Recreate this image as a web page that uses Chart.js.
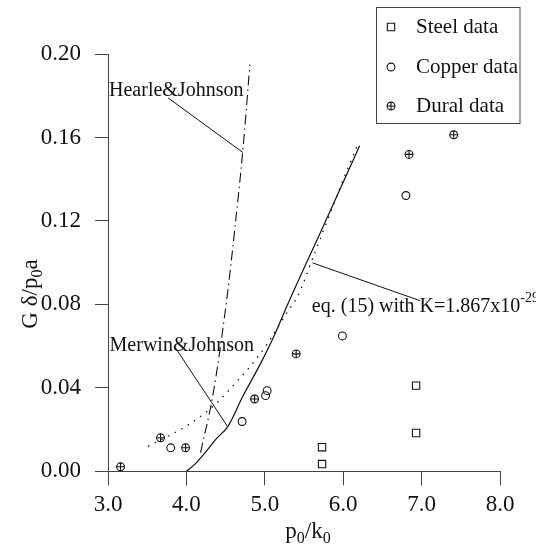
<!DOCTYPE html>
<html>
<head>
<meta charset="utf-8">
<script src="https://cdn.jsdelivr.net/npm/chart.js@4.4.1/dist/chart.umd.min.js"></script>
<style>
  html, body { margin: 0; padding: 0; background: #fff; }
  #wrap { width: 536px; height: 544px; }
</style>
</head>
<body>
<div id="wrap"><canvas id="chart"></canvas></div>
<script>
// measured points, x = p0/k0, y = G delta/p0 a
var steelX = [5.73, 5.73, 6.93, 6.93];
var steelY = [0.0035, 0.0116, 0.0184, 0.0411];
var copperX = [3.80, 4.71, 5.01, 5.03, 5.99, 6.80];
var copperY = [0.0113, 0.0239, 0.0363, 0.0387, 0.0649, 0.1322];
var duralX = [3.16, 3.67, 3.99, 4.87, 5.40, 6.84, 7.41];
var duralY = [0.0022, 0.0161, 0.0113, 0.0347, 0.0563, 0.1519, 0.1613];

// model curves
var merwinX = [4.0, 4.11, 4.26, 4.38, 4.53, 4.72, 4.95, 5.12, 5.28, 5.74, 6.21];
var merwinY = [0.0, 0.0035, 0.010, 0.0156, 0.0216, 0.036, 0.052, 0.065, 0.079, 0.117, 0.156];
var eq15X = [3.51, 3.92, 4.17, 4.42, 4.64, 4.83, 5.03, 5.28, 5.42, 5.62, 5.96, 6.20];
var eq15Y = [0.012, 0.020, 0.026, 0.034, 0.043, 0.051, 0.061, 0.076, 0.084, 0.103, 0.136, 0.158];
var hearleX = [4.18, 4.34, 4.51, 4.62, 4.72, 4.81];
var hearleY = [0.009, 0.037, 0.081, 0.117, 0.154, 0.195];

// label leader lines
var hearleLeadX = [3.765, 4.72];
var hearleLeadY = [0.179, 0.1528];
var merwinLeadX = [3.86, 4.52];
var merwinLeadY = [0.0592, 0.0218];
var eqLeadX = [5.61, 6.98];
var eqLeadY = [0.0999, 0.0818];

var xTicks = [3, 4, 5, 6, 7, 8];
var yTicks = [0, 0.04, 0.08, 0.12, 0.16, 0.20];
var legendNames = ['Steel data', 'Copper data', 'Dural data'];

var serif = "'Liberation Serif', 'Times New Roman', serif";
var ink = '#111';

function pts(xs, ys) {
    var out = [];
    for (var i = 0; i < xs.length; i++) {
        out.push({x: xs[i], y: ys[i]});
    }
    return out;
}

function curve(label, xs, ys, dash, width, smooth) {
    return {
        label: label,
        data: pts(xs, ys),
        showLine: true,
        borderColor: ink,
        borderWidth: width,
        borderDash: dash,
        cubicInterpolationMode: smooth ? 'monotone' : 'default',
        pointRadius: 0,
        pointHoverRadius: 0,
        fill: false
    };
}

function marks(label, xs, ys, style, r) {
    return {
        label: label,
        data: pts(xs, ys),
        showLine: false,
        pointStyle: style,
        pointRadius: r,
        pointHoverRadius: r,
        pointBorderWidth: 1.1,
        borderColor: ink,
        backgroundColor: 'rgba(0,0,0,0)'
    };
}

// legend symbols, same look as the point styles
var legendMarks = [
    [{style: 'rect', r: 5.2}],
    [{style: 'circle', r: 3.9}],
    [{style: 'circle', r: 3.9}, {style: 'cross', r: 4}]
];

// text with sub / superscripts: parts = [[text, 'sub'|'sup'|undefined], ...]
function drawRich(ctx, parts, x, y, size, align) {
    var small = Math.round(size * 0.68);
    var w = 0;
    parts.forEach(function (p) {
        ctx.font = (p[1] ? small : size) + 'px ' + serif;
        w += ctx.measureText(p[0]).width;
    });
    var cx = align == 'center' ? x - w / 2 : x;
    parts.forEach(function (p) {
        ctx.font = (p[1] ? small : size) + 'px ' + serif;
        var dy = 0;
        if (p[1] == 'sub') dy = size * 0.22;
        if (p[1] == 'sup') dy = -size * 0.5;
        ctx.fillText(p[0], cx, y + dy);
        cx += ctx.measureText(p[0]).width;
    });
}

var decor = {
    id: 'decor',
    afterDraw: function (chart) {
        var ctx = chart.ctx;
        var sx = chart.scales.x, sy = chart.scales.y;
        var area = chart.chartArea;
        ctx.save();

        // x axis runs a little past the y axis on the left
        ctx.strokeStyle = '#444';
        ctx.lineWidth = 1;
        ctx.beginPath();
        ctx.moveTo(area.left - 13, Math.round(area.bottom) + 0.5);
        ctx.lineTo(area.left, Math.round(area.bottom) + 0.5);
        ctx.stroke();

        ctx.fillStyle = ink;
        ctx.textBaseline = 'alphabetic';
        ctx.textAlign = 'left';

        // curve labels
        drawRich(ctx, [['Hearle&Johnson']], sx.getPixelForValue(3.013), sy.getPixelForValue(0.1798), 20, 'left');
        drawRich(ctx, [['Merwin&Johnson']], sx.getPixelForValue(3.02), sy.getPixelForValue(0.0578), 20, 'left');
        drawRich(ctx, [['eq. (15) with K=1.867x10'], ['-29', 'sup']], sx.getPixelForValue(5.60), sy.getPixelForValue(0.0762), 20, 'left');

        // axis titles
        drawRich(ctx, [['p'], ['0', 'sub'], ['/k'], ['0', 'sub']], 308, 538, 23, 'center');
        ctx.save();
        ctx.translate(37, 294);
        ctx.rotate(-Math.PI / 2);
        drawRich(ctx, [['G δ/p'], ['0', 'sub'], ['a']], 0, 0, 23, 'center');
        ctx.restore();

        // legend box
        ctx.fillStyle = '#fff';
        ctx.fillRect(376.5, 7.5, 143.5, 116);
        ctx.strokeStyle = '#444';
        ctx.strokeRect(376.5, 7.5, 143.5, 116);
        ctx.strokeStyle = ink;
        ctx.lineWidth = 1.1;
        ctx.font = '21px ' + serif;
        ctx.textBaseline = 'middle';
        var rows = [27, 67, 106];
        for (var i = 0; i < legendNames.length; i++) {
            ctx.fillStyle = 'rgba(0,0,0,0)';
            legendMarks[i].forEach(function (m) {
                Chart.helpers.drawPoint(ctx, {pointStyle: m.style, radius: m.r, rotation: 0, borderWidth: 1.1}, 391, rows[i]);
            });
            ctx.fillStyle = ink;
            ctx.fillText(legendNames[i], 416, rows[i]);
        }
        ctx.restore();
    }
};

var ctx = document.getElementById('chart').getContext('2d');
var myChart = new Chart(ctx, {
    type: 'scatter',
    data: {
        datasets: [
            curve('Merwin&Johnson', merwinX, merwinY, [], 1.2, true),
            curve('eq. (15)', eq15X, eq15Y, [1.5, 6], 1.3, true),
            curve('Hearle&Johnson', hearleX, hearleY, [10, 4, 1.5, 4], 1.1, true),
            curve('lead1', hearleLeadX, hearleLeadY, [], 1, false),
            curve('lead2', merwinLeadX, merwinLeadY, [], 1, false),
            curve('lead3', eqLeadX, eqLeadY, [], 1, false),
            marks('Steel data', steelX, steelY, 'rect', 5.2),
            marks('Copper data', copperX, copperY, 'circle', 3.9),
            marks('Dural data', duralX, duralY, 'circle', 3.9),
            marks('Dural data +', duralX, duralY, 'cross', 4)
        ]
    },
    options: {
        responsive: true,
        maintainAspectRatio: false,
        animation: false,
        layout: { padding: { left: 0, top: 54, right: 36, bottom: 19 } },
        plugins: {
            legend: { display: false },
            tooltip: { enabled: false }
        },
        scales: {
            x: {
                type: 'linear',
                min: 3,
                max: 8,
                afterBuildTicks: function (scale) {
                    scale.ticks = xTicks.map(function (v) { return {value: v}; });
                },
                ticks: {
                    color: ink,
                    font: { family: serif, size: 23 },
                    padding: 6,
                    maxRotation: 0,
                    callback: function (v) { return Number(v).toFixed(1); }
                },
                grid: { drawOnChartArea: false, tickLength: 14, color: '#444' },
                border: { color: '#444', width: 1 }
            },
            y: {
                type: 'linear',
                position: 'left',
                min: 0,
                max: 0.2,
                afterBuildTicks: function (scale) {
                    scale.ticks = yTicks.map(function (v) { return {value: v}; });
                },
                afterFit: function (scale) {
                    scale.width = 108;
                },
                ticks: {
                    color: ink,
                    font: { family: serif, size: 23 },
                    padding: 14,
                    callback: function (v) { return Number(v).toFixed(2); }
                },
                grid: { drawOnChartArea: false, tickLength: 13, color: '#444' },
                border: { color: '#444', width: 1 }
            }
        }
    },
    plugins: [decor]
});
</script>
</body>
</html>
